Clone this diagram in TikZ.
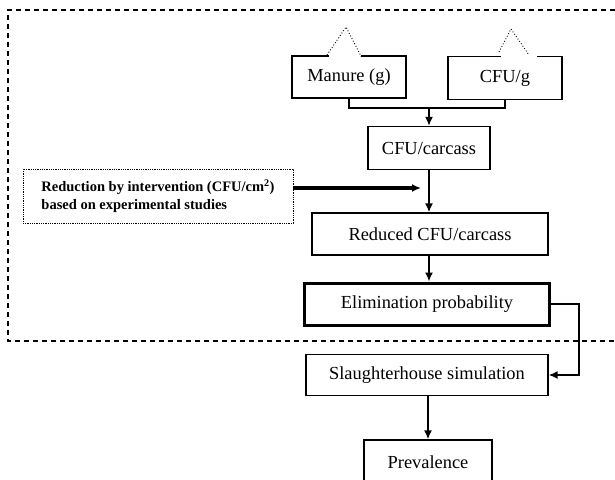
\documentclass[tikz,border=0pt]{standalone}
\usepackage{fontspec}
\setmainfont{Liberation Serif}
\usetikzlibrary{arrows.meta}
\begin{document}
\begin{tikzpicture}
      [x=1pt, y=-1pt, >={Latex[length=9pt,width=8pt]},
       box/.style={draw, line width=1.3pt, inner sep=0pt, font=\fontsize{18.4}{22}\selectfont},
       flow/.style={line width=1.7pt},
       hat/.style={dotted, line width=0.9pt}]
      \useasboundingbox (0,0) rectangle (615,479);
      \clip (0,0) rectangle (615,479);

      % region of the model
      \draw[line width=1.3pt, dash pattern=on 5pt off 4pt] (615,10) -- (8,10) -- (8,341) -- (615,341);

      \node[box, minimum width=114, minimum height=42] (man) at (349,77) {Manure (g)};
      \node[box, minimum width=114, minimum height=43] (cfug) at (505,78) {CFU/g};
      \node[box, minimum width=122, minimum height=43] (carc) at (429,148) {CFU/carcass};
      \node[box, minimum width=236, minimum height=42] (redu) at (430,234) {Reduced CFU/carcass};
      \node[box, line width=3pt, minimum width=245, minimum height=42] (elim) at (427,304) {Elimination probability};
      \node[box, minimum width=242, minimum height=41] (slau) at (427,375) {Slaughterhouse simulation};
      \node[box, minimum width=128, minimum height=44] (prev) at (428,462) {Prevalence};
      \node[densely dotted, draw, line width=0.8pt, minimum width=270, minimum height=54, inner sep=0pt,
            align=left, font=\bfseries\fontsize{14.5}{18}\selectfont] (interv) at (158,196)
            {Reduction by intervention (CFU/cm\textsuperscript{2})\\based on experimental studies};

      % hats on the input boxes
      \draw[white, line width=3pt] (329,56) -- (361,56);
      \draw[hat] (327,55) -- (346,27) -- (362,58);
      \draw[white, line width=3pt] (501,57) -- (537,57);
      \draw[hat] (499,52) -- (511,29) -- (529,55);

      \coordinate (join) at (429,108);
      \draw[flow] (man.south) |- (join);
      \draw[flow] (cfug.south) |- (join);
      \draw[flow, ->] (join) -- (carc.north);
      \draw[flow, ->] (carc.south) -- (carc.south |- redu.north);
      \coordinate (redtip) at (421,188);
      \draw[line width=4pt, ->] (interv.east |- redtip) -- (redtip);
      \coordinate (redout) at (redu.south -| carc.south);
      \draw[flow, ->] (redout) -- (redout |- elim.north);
      \draw[flow, ->] (elim.east) -- ++(28,0) |- (slau.east);
      \draw[flow, ->] (slau.south -| prev.north) -- (prev.north);
    \end{tikzpicture}
\end{document}
